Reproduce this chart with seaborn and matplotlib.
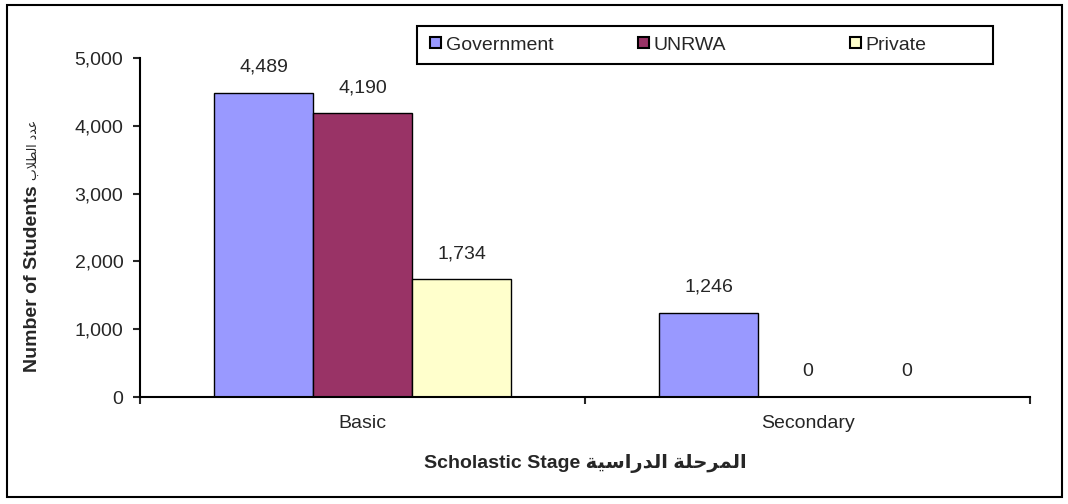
import pandas as pd
import matplotlib.pyplot as plt
from matplotlib.patches import Rectangle, Patch
from matplotlib.ticker import FuncFormatter, FixedLocator
import seaborn as sns

# data
stages = ['Basic', 'Secondary']
sectors = ['Government', 'UNRWA', 'Private']
government = [4489, 1246]
unrwa = [4190, 0]
private = [1734, 0]
colors = ['#9999FF', '#993366', '#FFFFCC']

# Arabic labels pre-shaped (presentation forms, visual order) since matplotlib does no bidi shaping
ar_stage = '\uFE94\uFEF4\uFEB3\uFE8D\uFEAD\uFEAA\uFEDF\uFE8D \uFE94\uFEE0\uFEA3\uFEAE\uFEE4\uFEDF\uFE8D'
ar_students = '\uFE8F\uFEFC\uFEC4\uFEDF\uFE8D \uFEA9\uFEAA\uFECB'

rows = []
for name, vals in zip(sectors, [government, unrwa, private]):
    for st, v in zip(stages, vals):
        rows.append({'Stage': st, 'Sector': name, 'Students': v})
df = pd.DataFrame(rows)

sns.set_style('ticks')
plt.rcParams['font.family'] = ['Liberation Sans', 'DejaVu Sans']
FS = 14

fig = plt.figure(figsize=(10.68, 5.04), dpi=100)
ax = fig.add_axes([140/1068, 1 - 397/504, (1030-140)/1068, (397-58)/504])

sns.barplot(data=df, x='Stage', y='Students', hue='Sector', order=stages, hue_order=sectors,
            palette=colors, saturation=1, width=0.667, gap=0, edgecolor='black', linewidth=1.0,
            legend=False, ax=ax)

for cont in ax.containers:
    ax.bar_label(cont, labels=[f'{v:,.0f}' for v in cont.datavalues], padding=12, fontsize=FS)

ax.set_ylim(0, 5000)
ax.set_xlim(-0.5, 1.5)
ax.set_yticks(range(0, 5001, 1000))
ax.yaxis.set_major_formatter(FuncFormatter(lambda v, p: f'{v:,.0f}'))
ax.tick_params(axis='y', labelsize=FS, length=5, width=1.5, direction='out', pad=7)

ax.xaxis.set_major_locator(FixedLocator([-0.5, 0.5, 1.5]))
ax.xaxis.set_minor_locator(FixedLocator([0, 1]))
ax.set_xticklabels([], minor=False)
ax.set_xticklabels(stages, minor=True)
ax.tick_params(axis='x', which='major', length=5, width=1.5, direction='out')
ax.tick_params(axis='x', which='minor', length=0, labelsize=FS, pad=13)

sns.despine(ax=ax)
for s in ['left', 'bottom']:
    ax.spines[s].set_color('black')
    ax.spines[s].set_linewidth(1.5)

ax.set_xlabel('Scholastic Stage ' + ar_stage, fontsize=FS, fontweight='bold', labelpad=16)
ax.set_ylabel('')

# y label: English part bold, Arabic part smaller and regular, stacked upwards
ylab = fig.text(33/1068, 1 - 372/504, 'Number of Students', rotation=90, ha='center', va='bottom',
                fontsize=14, fontweight='bold')
fig.canvas.draw()
bb = ylab.get_window_extent()
fig.text(33/1068, (bb.y1 + 5) / fig.bbox.height, ar_students, rotation=90, ha='center', va='bottom',
         fontsize=9, family=['DejaVu Sans'])

# legend: framed box with three evenly spaced entries
fig.patches.append(Rectangle((417/1068, 1 - 64/504), (993-417)/1068, 38/504, transform=fig.transFigure,
                             facecolor='white', edgecolor='black', linewidth=1.5, zorder=5))
for name, c, x0 in zip(sectors, colors, [430, 638, 850]):
    leg = fig.legend([Patch(facecolor=c, edgecolor='black', linewidth=1.5)], [name],
                     loc='center left', bbox_to_anchor=(x0/1068, 1 - 45/504),
                     frameon=False, fontsize=FS, handlelength=0.55, handleheight=0.55,
                     handletextpad=0.25, borderpad=0, borderaxespad=0)
    leg.set_zorder(6)

fig.patches.append(Rectangle((7/1068, 7/504), 1055/1068, 492/504, transform=fig.transFigure,
                             fill=False, edgecolor='black', linewidth=1.5))

fig.savefig('out.png', dpi=100)
